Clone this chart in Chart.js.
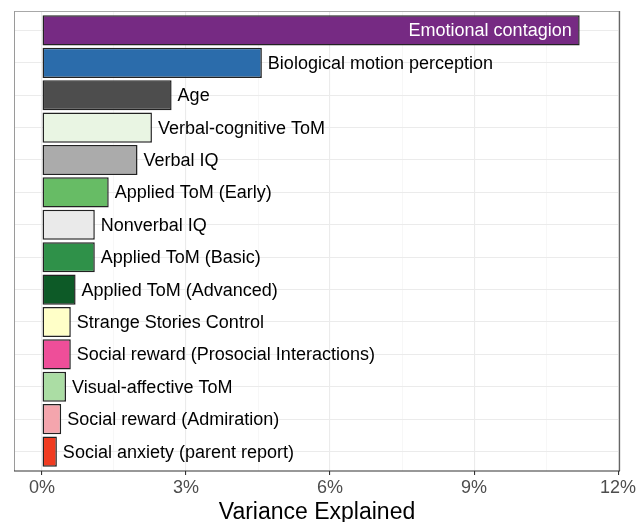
<!DOCTYPE html>
<html>
<head>
<meta charset="utf-8">
<script src="https://cdn.jsdelivr.net/npm/chart.js@4/dist/chart.umd.min.js"></script>
<style>
  html, body { margin: 0; padding: 0; background: #ffffff; }
  #wrap { width: 644px; height: 522px; position: relative; }
</style>
</head>
<body>
<div id="wrap"><canvas id="c" width="644" height="522"></canvas></div>
<script>
// ---- data ----
const categories = [
  "Emotional contagion",
  "Biological motion perception",
  "Age",
  "Verbal-cognitive ToM",
  "Verbal IQ",
  "Applied ToM (Early)",
  "Nonverbal IQ",
  "Applied ToM (Basic)",
  "Applied ToM (Advanced)",
  "Strange Stories Control",
  "Social reward (Prosocial Interactions)",
  "Visual-affective ToM",
  "Social reward (Admiration)",
  "Social anxiety (parent report)"
];
const variancePct = [11.2, 4.58, 2.70, 2.29, 1.99, 1.39, 1.10, 1.10, 0.70, 0.60, 0.60, 0.50, 0.40, 0.31];
const barColors = [
  "#762A83", "#2B6CAB", "#4D4D4D", "#E9F5E3", "#ABABAB", "#67BC65", "#EAEAEA",
  "#2F9149", "#0D5A27", "#FFFFC8", "#EE4E99", "#ABDDA4", "#F4A5AD", "#F03B20"
];
const majorTicks = [0, 3, 6, 9, 12];
const minorTicks = [1.5, 4.5, 7.5, 10.5];
const xTitle = "Variance Explained";

const FONT = "'Liberation Sans', Arial, Helvetica, sans-serif";

const labelPlugin = {
  id: 'barLabels',
  afterDatasetsDraw(chart) {
    const ctx = chart.ctx;
    const meta = chart.getDatasetMeta(0);
    const area = chart.chartArea;
    ctx.save();
    ctx.font = "18px " + FONT;
    ctx.textBaseline = 'middle';
    meta.data.forEach((el, i) => {
      const txt = categories[i];
      const w = ctx.measureText(txt).width;
      if (el.x + 6 + w > area.right) {
        ctx.fillStyle = '#ffffff';
        ctx.textAlign = 'right';
        ctx.fillText(txt, el.x - 8, el.y + 1);
      } else {
        ctx.fillStyle = '#000000';
        ctx.textAlign = 'left';
        ctx.fillText(txt, el.x + 6, el.y + 1);
      }
    });
    ctx.restore();
  },
  afterDraw(chart) {
    const ctx = chart.ctx;
    const a = chart.chartArea;
    ctx.save();
    ctx.lineWidth = 1;
    ctx.strokeStyle = '#A8A8A8';
    ctx.beginPath(); ctx.moveTo(a.left, a.top + 0.5); ctx.lineTo(a.right, a.top + 0.5); ctx.stroke();
    ctx.strokeStyle = '#9A9A9A';
    ctx.beginPath(); ctx.moveTo(a.left + 0.5, a.top); ctx.lineTo(a.left + 0.5, a.bottom); ctx.stroke();
    ctx.strokeStyle = '#666666';
    ctx.lineWidth = 1.3;
    ctx.beginPath(); ctx.moveTo(a.right - 0.5, a.top); ctx.lineTo(a.right - 0.5, a.bottom); ctx.stroke();
    ctx.strokeStyle = '#333333';
    ctx.lineWidth = 1.2;
    ctx.beginPath(); ctx.moveTo(a.left, a.bottom); ctx.lineTo(a.right, a.bottom); ctx.stroke();
    ctx.restore();
  }
};

new Chart(document.getElementById('c'), {
  type: 'bar',
  data: {
    datasets: [{
      data: variancePct.map((v, i) => ({ x: v, y: i })),
      backgroundColor: barColors,
      borderColor: '#222222',
      borderWidth: 1.5,
      borderSkipped: false,
      categoryPercentage: 1.0,
      barPercentage: 0.93
    }]
  },
  options: {
    indexAxis: 'y',
    responsive: false,
    animation: false,
    devicePixelRatio: 1,
    layout: { padding: { left: 14, top: 11, right: 24, bottom: -2 } },
    plugins: { legend: { display: false }, tooltip: { enabled: false } },
    scales: {
      x: {
        type: 'linear',
        min: -0.583,
        max: 12.04,
        offset: false,
        afterBuildTicks(scale) {
          scale.ticks = majorTicks.concat(minorTicks).sort((p, q) => p - q).map(v => ({ value: v }));
        },
        border: { display: false },
        grid: {
          offset: false,
          color: c => (c.tick && minorTicks.includes(c.tick.value)) ? '#F3F3F3' : '#EBEBEB',
          lineWidth: c => (c.tick && minorTicks.includes(c.tick.value)) ? 0.7 : 1.1,
          tickColor: c => (c.tick && minorTicks.includes(c.tick.value)) ? 'rgba(0,0,0,0)' : '#333333',
          tickLength: 4,
          drawTicks: true
        },
        ticks: {
          autoSkip: false,
          maxRotation: 0,
          padding: 4,
          color: '#4D4D4D',
          font: { family: FONT, size: 18, lineHeight: 1.0 },
          callback: v => majorTicks.includes(v) ? v + '%' : ''
        },
        title: {
          display: true,
          text: xTitle,
          color: '#000000',
          font: { family: FONT, size: 23, lineHeight: 1.0 },
          padding: { top: 0, bottom: 0 }
        }
      },
      y: {
        type: 'linear',
        reverse: true,
        offset: false,
        min: -0.6,
        max: categories.length - 1 + 0.6,
        afterBuildTicks(scale) {
          scale.ticks = categories.map((_, i) => ({ value: i }));
        },
        border: { display: false },
        grid: { offset: false, color: '#EBEBEB', lineWidth: 1.1, drawTicks: false },
        ticks: { display: false }
      }
    }
  },
  plugins: [labelPlugin]
});
</script>
</body>
</html>
